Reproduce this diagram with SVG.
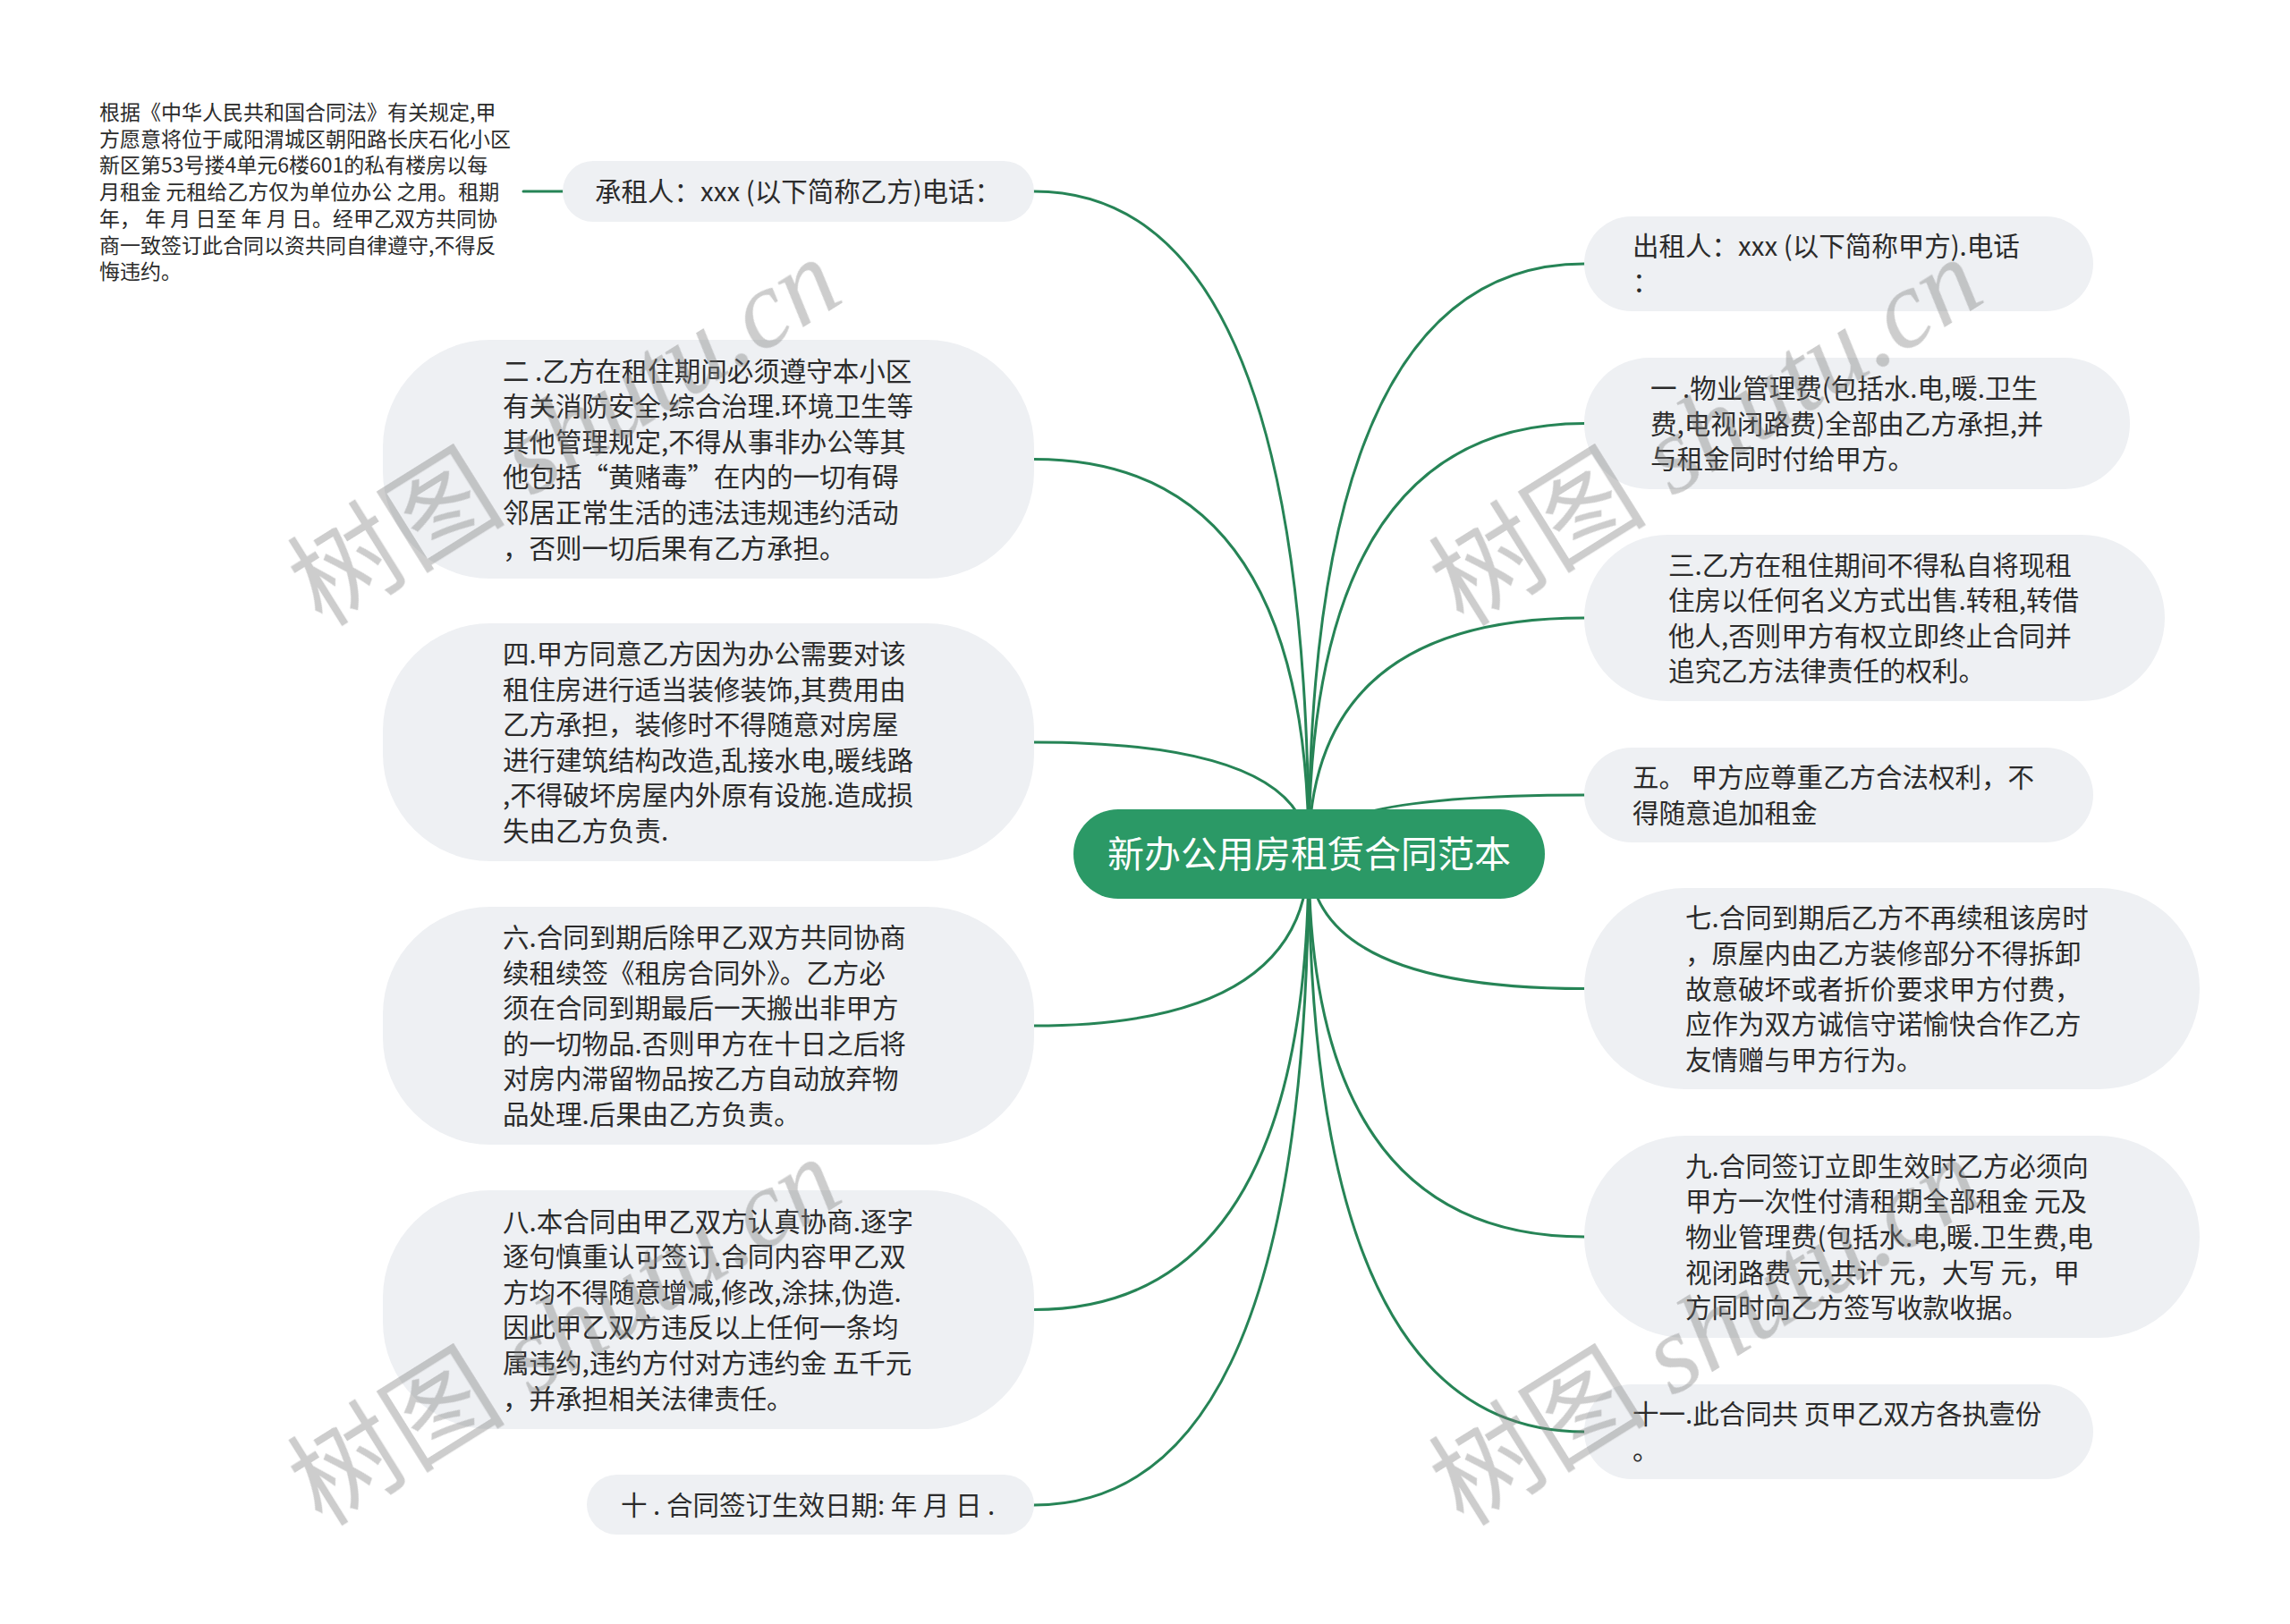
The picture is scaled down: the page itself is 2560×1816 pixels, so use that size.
<svg xmlns="http://www.w3.org/2000/svg" width="2560" height="1816" viewBox="0 0 2560 1816">
<style>
.bg{fill:#ffffff}
.pill{fill:#eef0f3}
.t{font-family:"Noto Sans CJK SC","Noto Sans",sans-serif;font-size:29.5px;fill:#2b2b2b}
.small{font-family:"Noto Sans CJK SC","Noto Sans",sans-serif;font-size:23px;fill:#2b2b2b}
.root{fill:#2b9966}
.rt{font-family:"Noto Sans CJK SC","Noto Sans",sans-serif;font-size:41px;fill:#ffffff}
.c{fill:none;stroke:#268456;stroke-width:3;stroke-linecap:round}
.wm{fill:#7a7a7a;opacity:0.38}
.wmc{font-family:"Noto Sans CJK SC",sans-serif;font-size:122px}
.wml{font-family:"Liberation Serif","DejaVu Serif",serif;font-style:italic;font-size:124px}
</style>
<rect class="bg" x="0" y="0" width="2560" height="1816"/>

<g id="connectors">
<path class="c" d="M1463 955 Q1463 214 1156 214"/>
<path class="c" d="M1463 955 Q1463 513.5 1156 513.5"/>
<path class="c" d="M1463 955 Q1463 830 1156 830"/>
<path class="c" d="M1463 955 Q1463 1147 1156 1147"/>
<path class="c" d="M1463 955 Q1463 1464.5 1156 1464.5"/>
<path class="c" d="M1463 955 Q1463 1683 1156 1683"/>
<path class="c" d="M1463 955 Q1463 295 1771 295"/>
<path class="c" d="M1463 955 Q1463 473.5 1771 473.5"/>
<path class="c" d="M1463 955 Q1463 691 1771 691"/>
<path class="c" d="M1463 955 Q1463 889 1771 889"/>
<path class="c" d="M1463 955 Q1463 1105.5 1771 1105.5"/>
<path class="c" d="M1463 955 Q1463 1383 1771 1383"/>
<path class="c" d="M1463 955 Q1463 1601 1771 1601"/>
<path class="c" d="M629 214 L585 214"/>
</g>

<g id="root">
<rect class="root" x="1200" y="905" width="527" height="100" rx="50" ry="50"/>
<text class="rt" x="1463.5" y="970" text-anchor="middle">新办公用房租赁合同范本</text>
</g>

<g id="node-intro">
<text class="small" x="111" y="134">根据《中华人民共和国合同法》有关规定,甲</text>
<text class="small" x="111" y="163.7">方愿意将位于咸阳渭城区朝阳路长庆石化小区</text>
<text class="small" x="111" y="193.4">新区第53号搂4单元6楼601的私有楼房以每</text>
<text class="small" x="111" y="223.1">月租金 元租给乙方仅为单位办公 之用。租期</text>
<text class="small" x="111" y="252.8">年， 年 月 日至 年 月 日。经甲乙双方共同协</text>
<text class="small" x="111" y="282.5">商一致签订此合同以资共同自律遵守,不得反</text>
<text class="small" x="111" y="312.2">悔违约。</text>
</g>

<g id="node-chengzu">
<rect class="pill" x="629" y="180" width="527" height="68" rx="34"/>
<text class="t" x="665" y="225">承租人：xxx (以下简称乙方)电话：</text>
</g>

<g id="node-2">
<rect class="pill" x="428" y="380" width="728" height="267" rx="120"/>
<text class="t" x="562" y="425.5">二 .乙方在租住期间必须遵守本小区</text>
<text class="t" x="562" y="465.1">有关消防安全,综合治理.环境卫生等</text>
<text class="t" x="562" y="504.7">其他管理规定,不得从事非办公等其</text>
<text class="t" x="562" y="544.3">他包括“黄赌毒”在内的一切有碍</text>
<text class="t" x="562" y="583.9">邻居正常生活的违法违规违约活动</text>
<text class="t" x="562" y="623.5">，否则一切后果有乙方承担。</text>
</g>

<g id="node-4">
<rect class="pill" x="428" y="697" width="728" height="266" rx="120"/>
<text class="t" x="562" y="742">四.甲方同意乙方因为办公需要对该</text>
<text class="t" x="562" y="781.6">租住房进行适当装修装饰,其费用由</text>
<text class="t" x="562" y="821.2">乙方承担，装修时不得随意对房屋</text>
<text class="t" x="562" y="860.8">进行建筑结构改造,乱接水电,暖线路</text>
<text class="t" x="562" y="900.4">,不得破坏房屋内外原有设施.造成损</text>
<text class="t" x="562" y="940">失由乙方负责.</text>
</g>

<g id="node-6">
<rect class="pill" x="428" y="1014" width="728" height="266" rx="120"/>
<text class="t" x="562" y="1059">六.合同到期后除甲乙双方共同协商</text>
<text class="t" x="562" y="1098.6">续租续签《租房合同外》。乙方必</text>
<text class="t" x="562" y="1138.2">须在合同到期最后一天搬出非甲方</text>
<text class="t" x="562" y="1177.8">的一切物品.否则甲方在十日之后将</text>
<text class="t" x="562" y="1217.4">对房内滞留物品按乙方自动放弃物</text>
<text class="t" x="562" y="1257">品处理.后果由乙方负责。</text>
</g>

<g id="node-8">
<rect class="pill" x="428" y="1331" width="728" height="267" rx="120"/>
<text class="t" x="562" y="1376.5">八.本合同由甲乙双方认真协商.逐字</text>
<text class="t" x="562" y="1416.1">逐句慎重认可签订.合同内容甲乙双</text>
<text class="t" x="562" y="1455.7">方均不得随意增减,修改,涂抹,伪造.</text>
<text class="t" x="562" y="1495.3">因此甲乙双方违反以上任何一条均</text>
<text class="t" x="562" y="1534.9">属违约,违约方付对方违约金 五千元</text>
<text class="t" x="562" y="1574.5">，并承担相关法律责任。</text>
</g>

<g id="node-10">
<rect class="pill" x="656" y="1649" width="500" height="67" rx="33.5"/>
<text class="t" x="694" y="1694">十 . 合同签订生效日期: 年 月 日 .</text>
</g>

<g id="node-chuzu">
<rect class="pill" x="1771" y="242" width="569" height="106" rx="53"/>
<text class="t" x="1825" y="286.2">出租人：xxx (以下简称甲方).电话</text>
<text class="t" x="1825" y="325.8">：</text>
</g>

<g id="node-1">
<rect class="pill" x="1771" y="400" width="610" height="147" rx="73"/>
<text class="t" x="1845" y="444.9">一 .物业管理费(包括水.电,暖.卫生</text>
<text class="t" x="1845" y="484.5">费,电视闭路费)全部由乙方承担,并</text>
<text class="t" x="1845" y="524.1">与租金同时付给甲方。</text>
</g>

<g id="node-3">
<rect class="pill" x="1771" y="598" width="649" height="186" rx="93"/>
<text class="t" x="1865" y="642.6">三.乙方在租住期间不得私自将现租</text>
<text class="t" x="1865" y="682.2">住房以任何名义方式出售.转租,转借</text>
<text class="t" x="1865" y="721.8">他人,否则甲方有权立即终止合同并</text>
<text class="t" x="1865" y="761.4">追究乙方法律责任的权利。</text>
</g>

<g id="node-5">
<rect class="pill" x="1771" y="836" width="569" height="106" rx="53"/>
<text class="t" x="1825" y="880.2">五。 甲方应尊重乙方合法权利，不</text>
<text class="t" x="1825" y="919.8">得随意追加租金</text>
</g>

<g id="node-7">
<rect class="pill" x="1771" y="993" width="688" height="225" rx="112"/>
<text class="t" x="1884" y="1037.3">七.合同到期后乙方不再续租该房时</text>
<text class="t" x="1884" y="1076.9">，原屋内由乙方装修部分不得拆卸</text>
<text class="t" x="1884" y="1116.5">故意破坏或者折价要求甲方付费，</text>
<text class="t" x="1884" y="1156.1">应作为双方诚信守诺愉快合作乙方</text>
<text class="t" x="1884" y="1195.7">友情赠与甲方行为。</text>
</g>

<g id="node-9">
<rect class="pill" x="1771" y="1270" width="688" height="226" rx="113"/>
<text class="t" x="1884" y="1314.8">九.合同签订立即生效时乙方必须向</text>
<text class="t" x="1884" y="1354.4">甲方一次性付清租期全部租金 元及</text>
<text class="t" x="1884" y="1394">物业管理费(包括水.电,暖.卫生费,电</text>
<text class="t" x="1884" y="1433.6">视闭路费 元,共计 元，大写 元，甲</text>
<text class="t" x="1884" y="1473.2">方同时向乙方签写收款收据。</text>
</g>

<g id="node-11">
<rect class="pill" x="1771" y="1548" width="569" height="106" rx="53"/>
<text class="t" x="1825" y="1592.2">十一.此合同共 页甲乙双方各执壹份</text>
<text class="t" x="1825" y="1631.8">。</text>
</g>

<g id="watermarks" class="wm">
<text transform="translate(360 702) rotate(-32)"><tspan class="wmc">树图</tspan><tspan class="wml"> shutu.cn</tspan></text>
<text transform="translate(1636 702) rotate(-32)"><tspan class="wmc">树图</tspan><tspan class="wml"> shutu.cn</tspan></text>
<text transform="translate(360 1708) rotate(-32)"><tspan class="wmc">树图</tspan><tspan class="wml"> shutu.cn</tspan></text>
<text transform="translate(1636 1708) rotate(-32)"><tspan class="wmc">树图</tspan><tspan class="wml"> shutu.cn</tspan></text>
</g>
</svg>
